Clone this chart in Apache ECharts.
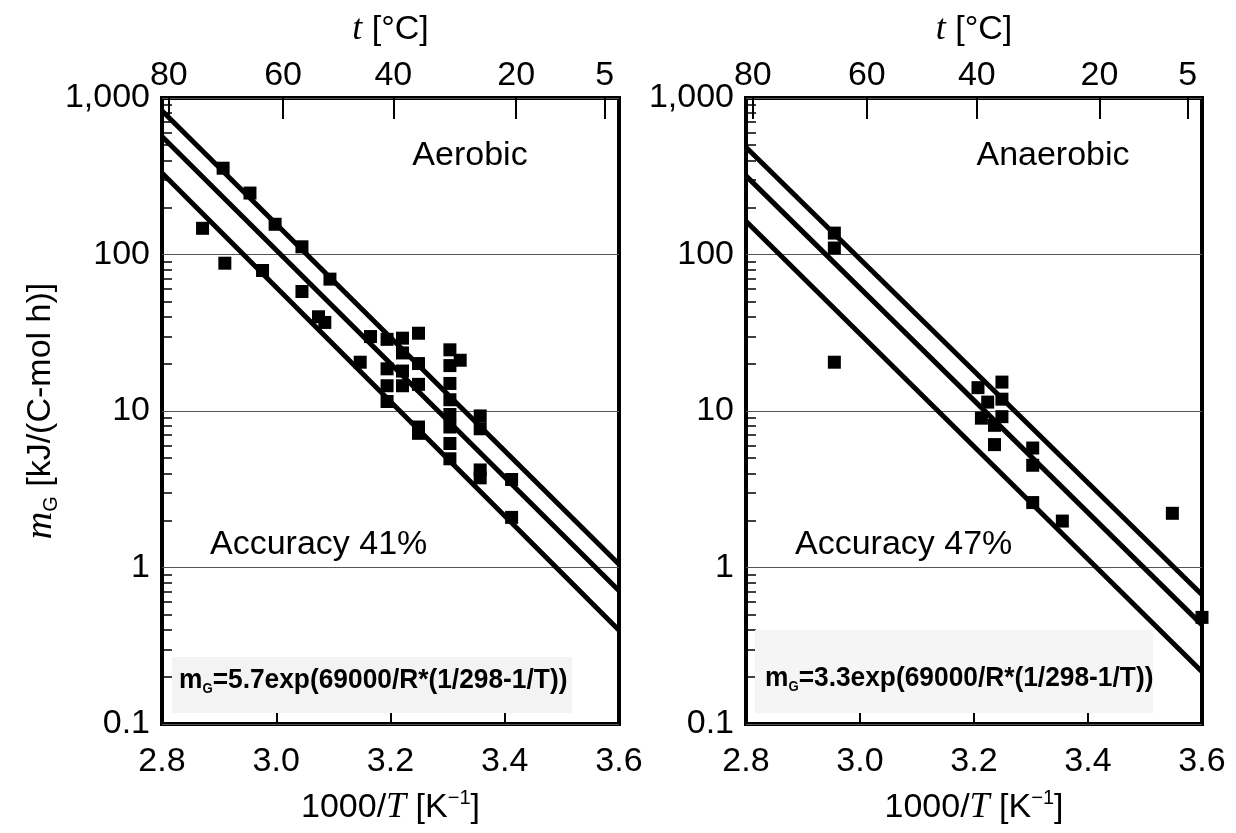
<!DOCTYPE html>
<html>
<head>
<meta charset="utf-8">
<script src="https://cdn.jsdelivr.net/npm/echarts@6/dist/echarts.min.js"></script>
<style>
  html, body { margin: 0; padding: 0; background: #fff; }
  #chart { width: 1236px; height: 833px; }
</style>
</head>
<body>
<div id="chart"></div>
<script>
// values: [1000/T, mG]
const aerobicPoints = [
  [2.871, 147], [2.907, 356], [2.910, 88], [2.954, 247], [2.976, 79],
  [2.998, 156], [3.045, 112], [3.045, 58], [3.074, 40], [3.085, 36.8],
  [3.094, 69.6], [3.147, 20.5], [3.165, 29.9], [3.194, 28.7], [3.221, 29.2],
  [3.249, 31.4], [3.221, 23.5], [3.194, 18.6], [3.221, 18.0], [3.249, 20.1],
  [3.194, 14.5], [3.221, 14.5], [3.249, 14.8], [3.194, 11.5], [3.249, 7.9],
  [3.249, 7.2], [3.304, 24.6], [3.322, 21.1], [3.304, 19.5], [3.304, 15.0],
  [3.304, 11.8], [3.304, 9.5], [3.304, 7.9], [3.304, 6.2], [3.304, 4.95],
  [3.357, 9.3], [3.357, 7.7], [3.357, 4.2], [3.357, 3.74], [3.412, 3.65],
  [3.412, 2.09],
];
const anaerobicPoints = [
  [2.955, 137], [2.955, 110], [2.955, 20.5], [3.207, 14.1], [3.249, 15.3],
  [3.224, 11.4], [3.249, 11.9], [3.213, 9.0], [3.249, 9.2], [3.236, 8.1],
  [3.236, 6.1], [3.303, 5.8], [3.303, 4.5], [3.303, 2.6], [3.355, 1.98],
  [3.548, 2.22], [3.600, 0.48],
];
// model lines (end points at 1000/T = 2.8 and 3.6)
const aerobicUpper = [[2.8, 828], [3.6, 1.05]];
const aerobicMid = [[2.8, 568], [3.6, 0.71]];
const aerobicLower = [[2.8, 332], [3.6, 0.397]];
const anaerobicUpper = [[2.8, 484], [3.6, 0.67]];
const anaerobicMid = [[2.8, 318], [3.6, 0.43]];
const anaerobicLower = [[2.8, 163], [3.6, 0.216]];

// top temperature axis: position (1000/T) and label (°C)
const topTickPos = [2.812, 3.012, 3.205, 3.42, 3.575];
const topTickLabels = ['80', '60', '40', '20', '5'];
const minorTicks = [0.2, 0.3, 0.4, 0.5, 0.6, 0.7, 0.8, 0.9, 2, 3, 4, 5, 6, 7, 8, 9,
  20, 30, 40, 50, 60, 70, 80, 90, 200, 300, 400, 500, 600, 700, 800, 900];

const FONT = 'Liberation Sans';
const SERIF = 'Liberation Serif';
const grids = [
  { left: 162, top: 98, width: 457, height: 635 },
  { left: 746, top: 98, width: 456, height: 635 },
];

const topLabel = (v) => {
  let best = 0;
  for (let i = 0; i < topTickPos.length; i++) {
    if (Math.abs(topTickPos[i] - v) < Math.abs(topTickPos[best] - v)) best = i;
  }
  return topTickLabels[best];
};
const yLabel = (v) => {
  if (v >= 999) return '1,000';
  if (v < 0.5) return '0.1';
  return String(Math.round(v));
};

const bottomAxis = (g) => ({
  type: 'value', gridIndex: g, position: 'bottom', min: 2.8, max: 3.6, interval: 0.2,
  axisLine: { show: false },
  axisTick: { inside: true, length: 19, lineStyle: { color: '#000', width: 2 } },
  axisLabel: { margin: 21, fontSize: 34, fontFamily: FONT, color: '#000',
    formatter: (v) => v.toFixed(1) },
  splitLine: { show: false },
  name: '1000/{ti|T} [K{sup|\u22121}]',
  nameLocation: 'middle', nameGap: 64,
  nameTextStyle: { fontSize: 34, fontFamily: FONT, color: '#000', lineHeight: 40,
    rich: {
      ti: { fontSize: 36, fontFamily: SERIF, fontStyle: 'italic', color: '#000', lineHeight: 40 },
      sup: { fontSize: 20, fontFamily: FONT, color: '#000', verticalAlign: 'top', lineHeight: 20 },
    } },
});
const topAxis = (g) => ({
  type: 'value', gridIndex: g, position: 'top', min: 2.8, max: 3.6,
  axisLine: { show: false },
  axisTick: { inside: true, length: 21, customValues: topTickPos,
    lineStyle: { color: '#000', width: 2 } },
  axisLabel: { margin: 5, fontSize: 34, fontFamily: FONT, color: '#000',
    customValues: topTickPos, formatter: topLabel },
  splitLine: { show: false },
  name: '{ti|t} [\u00b0C]',
  nameLocation: 'middle', nameGap: 48,
  nameTextStyle: { fontSize: 34, fontFamily: FONT, color: '#000', lineHeight: 40,
    rich: { ti: { fontSize: 36, fontFamily: SERIF, fontStyle: 'italic', color: '#000', lineHeight: 40 } } },
});
const mainYAxis = (g, withName) => ({
  type: 'log', gridIndex: g, position: 'left', min: 0.1, max: 1000, logBase: 10,
  axisLine: { show: false },
  axisTick: { show: false },
  axisLabel: { margin: 12, fontSize: 34, fontFamily: FONT, color: '#000', formatter: yLabel },
  splitLine: { show: true, lineStyle: { color: '#555', width: 1 } },
  name: withName ? '{mi|m}{sub|G} [kJ/(C-mol h)]' : '',
  nameLocation: 'middle', nameRotate: 90, nameGap: 101,
  nameTextStyle: { fontSize: 34, fontFamily: FONT, color: '#000', lineHeight: 40,
    rich: {
      mi: { fontSize: 38, fontFamily: SERIF, fontStyle: 'italic', color: '#000', lineHeight: 40 },
      sub: { fontSize: 20, fontFamily: FONT, color: '#000', verticalAlign: 'bottom', lineHeight: 20 },
    } },
});
const minorYAxis = (g) => ({
  type: 'log', gridIndex: g, position: 'left', min: 0.1, max: 1000, logBase: 10,
  axisLine: { show: false },
  axisTick: { show: true, inside: true, length: 10, customValues: minorTicks,
    lineStyle: { color: '#000', width: 1.5 } },
  axisLabel: { show: false },
  splitLine: { show: false },
});

const lineSeries = (data, xi, yi) => ({
  type: 'line', data, xAxisIndex: xi, yAxisIndex: yi, symbol: 'none',
  lineStyle: { color: '#000', width: 5 }, z: 3, silent: true,
});
const pointSeries = (data, xi, yi) => ({
  type: 'scatter', data, xAxisIndex: xi, yAxisIndex: yi, symbol: 'rect',
  symbolSize: 13, itemStyle: { color: '#000', opacity: 1 }, z: 4, silent: true,
});

const formulaRich = {
  m: { fontSize: 28, fontFamily: FONT, fontWeight: 'bold', color: '#222', lineHeight: 32 },
  g: { fontSize: 14, fontFamily: FONT, fontWeight: 'bold', color: '#222', verticalAlign: 'bottom', lineHeight: 14 },
};
const formula = (x, y, text) => ({
  type: 'text', x, y, z: 10, scaleX: 0.94,
  style: { text: '{m|m}{g|G}{m|' + text + '}', rich: formulaRich, align: 'left', verticalAlign: 'middle' },
});
const note = (x, y, text, align) => ({
  type: 'text', x, y, z: 10,
  style: { text, fontSize: 34, fontFamily: FONT, fill: '#000', align, verticalAlign: 'middle' },
});

const chart = echarts.init(document.getElementById('chart'));
const option = {
  animation: false,
  backgroundColor: '#fff',
  grid: grids.map((g) => Object.assign({ show: true, borderColor: '#000', borderWidth: 4,
    backgroundColor: 'transparent', containLabel: false }, g)),
  xAxis: [bottomAxis(0), topAxis(0), bottomAxis(1), topAxis(1)],
  yAxis: [mainYAxis(0, true), minorYAxis(0), mainYAxis(1, false), minorYAxis(1)],
  series: [
    lineSeries(aerobicUpper, 0, 0),
    lineSeries(aerobicMid, 0, 0),
    lineSeries(aerobicLower, 0, 0),
    pointSeries(aerobicPoints, 0, 0),
    lineSeries(anaerobicUpper, 2, 2),
    lineSeries(anaerobicMid, 2, 2),
    lineSeries(anaerobicLower, 2, 2),
    pointSeries(anaerobicPoints, 2, 2),
  ],
  graphic: [
    { type: 'rect', shape: { x: 172, y: 657, width: 400, height: 56 }, style: { fill: '#f3f3f3' }, z: 1 },
    { type: 'rect', shape: { x: 755, y: 630, width: 398, height: 83 }, style: { fill: '#f5f5f5' }, z: 1 },
    note(470, 156, 'Aerobic', 'center'),
    note(1053, 156, 'Anaerobic', 'center'),
    note(210, 545, 'Accuracy 41%', 'left'),
    note(795, 545, 'Accuracy 47%', 'left'),
    formula(179, 680, '=5.7exp(69000/R*(1/298-1/T))'),
    formula(765, 678, '=3.3exp(69000/R*(1/298-1/T))'),
  ],
};
chart.setOption(option);
</script>
</body>
</html>
